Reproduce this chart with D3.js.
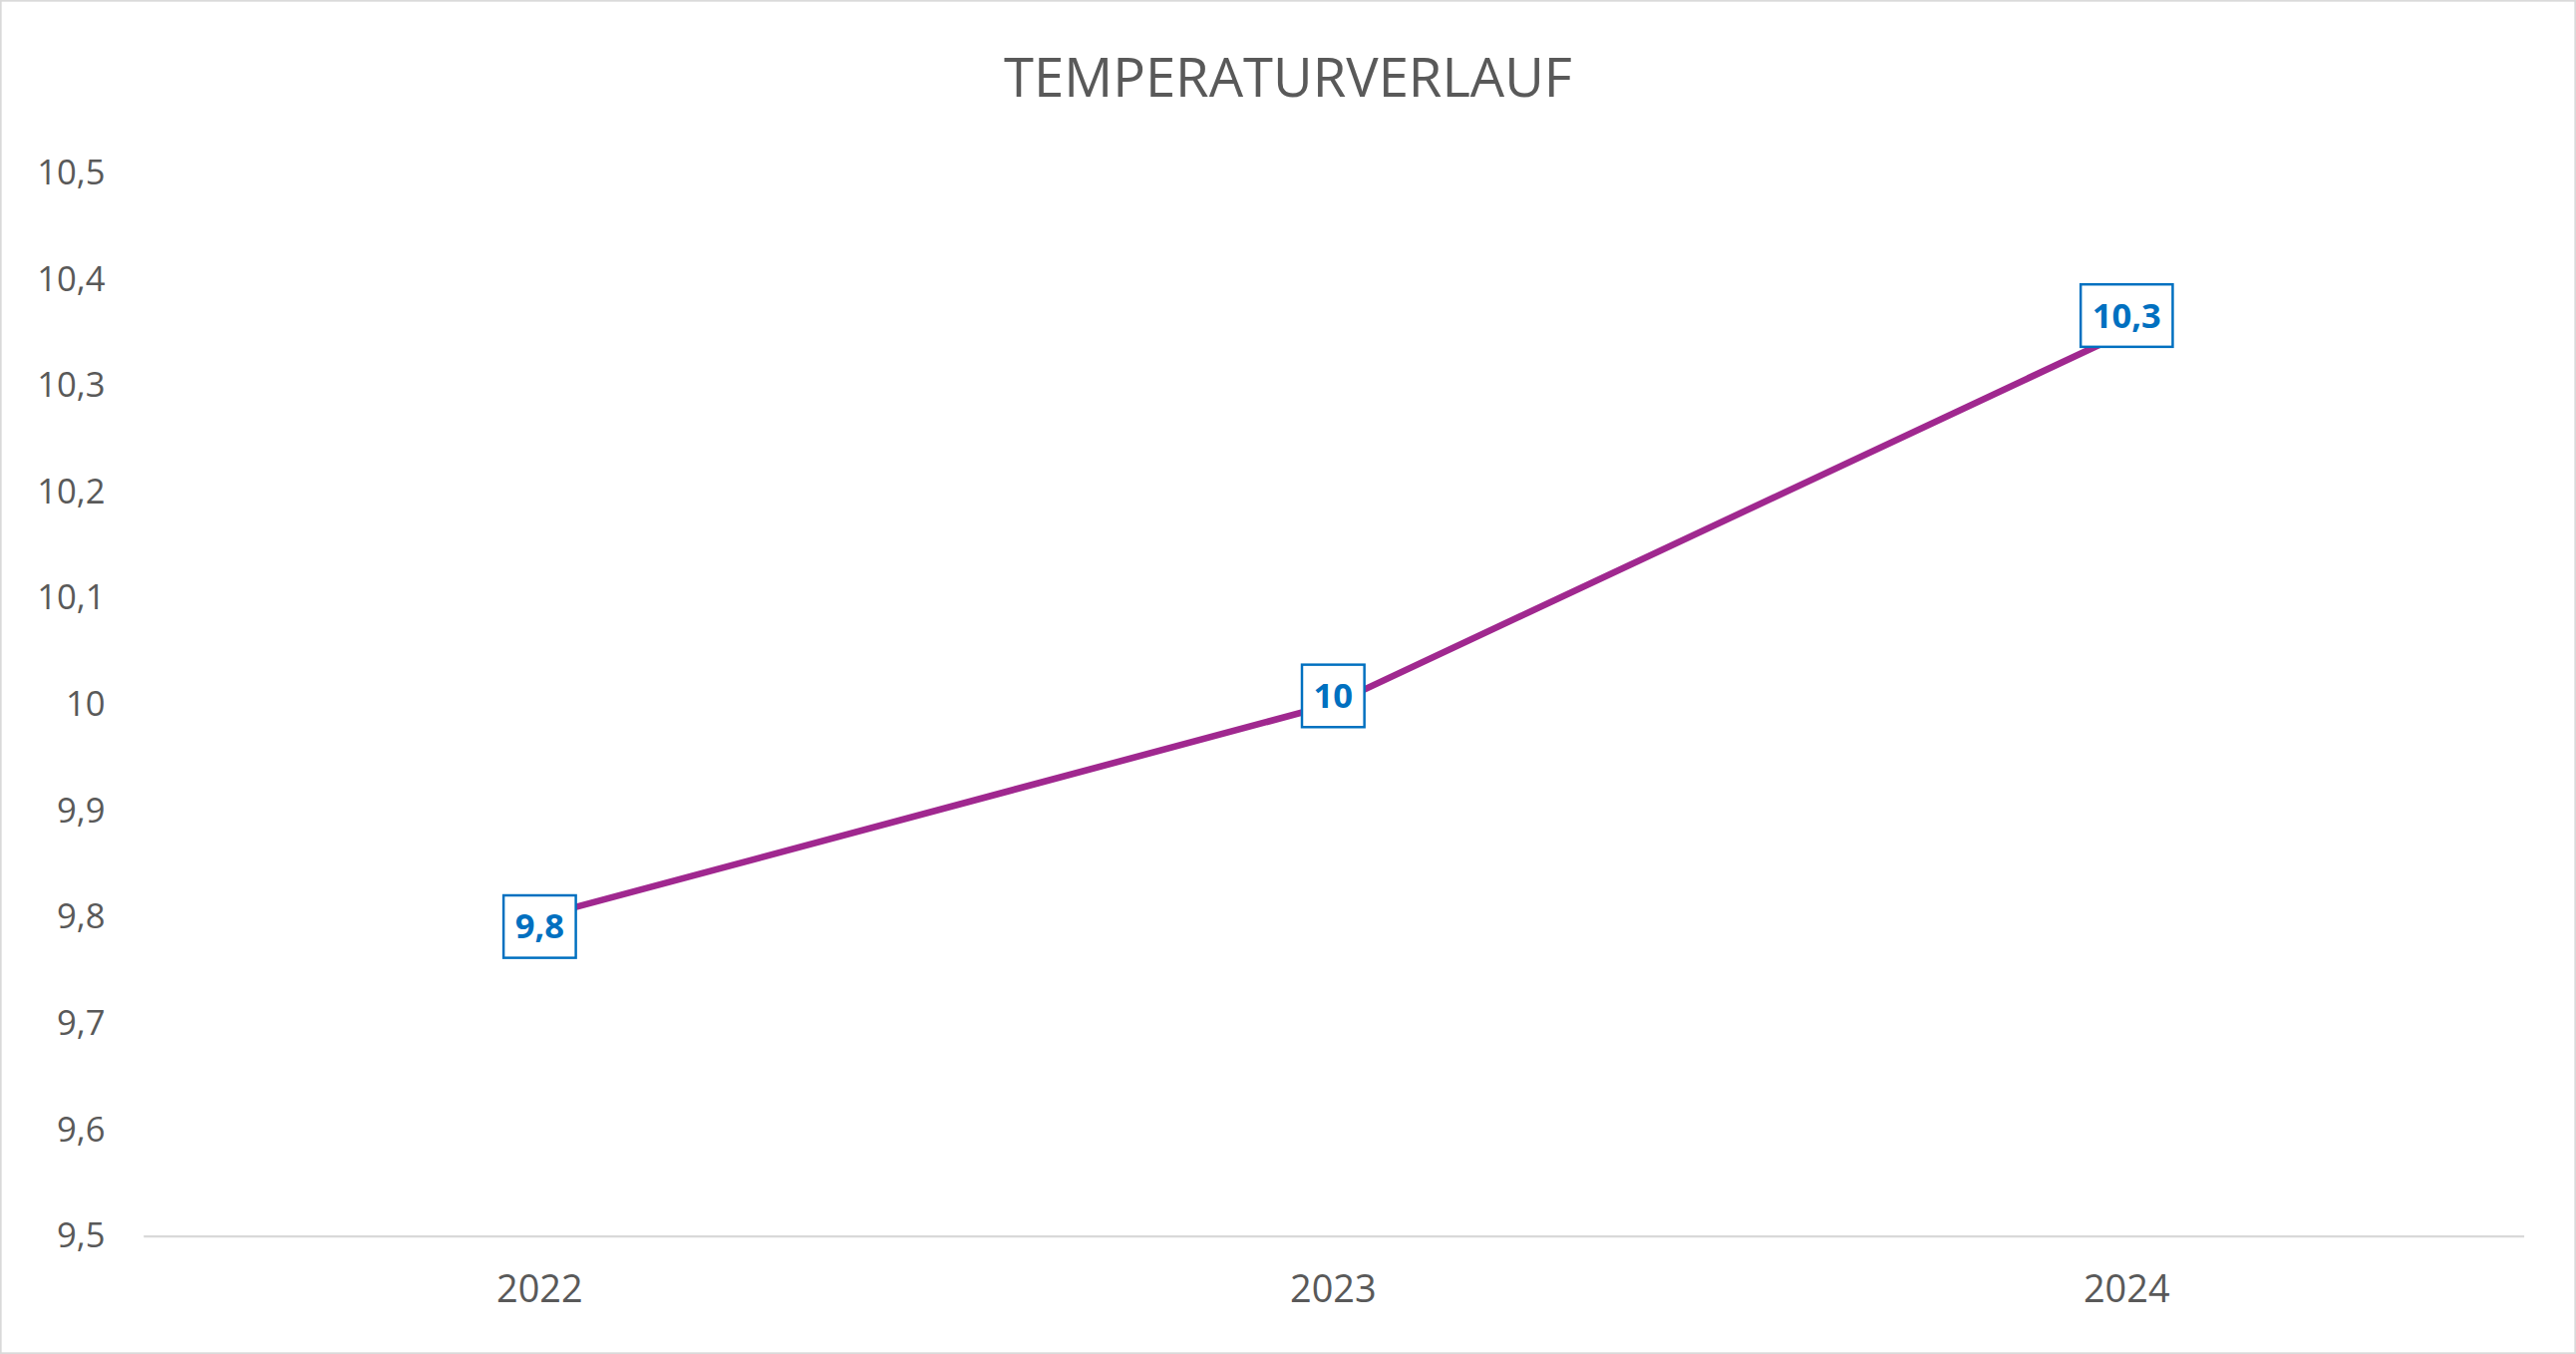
<!DOCTYPE html>
<html><head><meta charset="utf-8">
<script src="https://cdn.jsdelivr.net/npm/d3@7"></script>
<style>html,body{margin:0;padding:0;background:#fff;overflow:hidden}</style>
</head><body>
<svg id="c" width="2584" height="1358" viewBox="0 0 1568 824"></svg>
<script>
const title = "TEMPERATURVERLAUF";
const categories = ["2022","2023","2024"];
const values = [9.8, 10.0, 10.35];
const yTicks = [9.5,9.6,9.7,9.8,9.9,10,10.1,10.2,10.3,10.4,10.5];

const svg = d3.select("#c");
const font = "'Open Sans', 'Liberation Sans', sans-serif";
svg.append("rect").attr("x",0.5).attr("y",0.5).attr("width",1567).attr("height",823)
  .attr("fill","#fff").attr("stroke","#d9d9d9");
const x = d3.scaleBand().domain(categories).range([87,1536]);
const y = d3.scaleLinear().domain([9.5,10.5]).range([752,105]);
const fmt = v => d3.format(".1f")(v).replace(".",",").replace(",0","");
const tfmt = v => (Math.round(v*10)/10).toString().replace(".",",");

svg.append("text").attr("x",784).attr("y",59).attr("text-anchor","middle")
  .attr("font-family",font).attr("font-size",33).attr("fill","#595959").text(title);

const ya = svg.append("g").attr("transform","translate(64,0)")
  .call(d3.axisLeft(y).tickValues(yTicks).tickSize(0).tickPadding(0).tickFormat(tfmt));
ya.select(".domain").remove();
ya.selectAll("text").attr("font-family",font).attr("font-size",21).attr("fill","#595959");

const xa = svg.append("g").attr("transform","translate(0,752)")
  .call(d3.axisBottom(x).tickSize(0).tickPadding(24));
xa.select(".domain").attr("stroke","#d9d9d9").attr("stroke-width",1.5);
xa.selectAll("text").attr("font-family",font).attr("font-size",23).attr("fill","#595959");

const cx = d => x(d)+x.bandwidth()/2;
svg.append("path").datum(values)
  .attr("d", d3.line().x((d,i)=>cx(categories[i])).y(d=>y(d)))
  .attr("fill","none").attr("stroke","#a0288f").attr("stroke-width",4);

values.forEach((v,i)=>{
  const g = svg.append("g").attr("transform",`translate(${cx(categories[i])},${y(v)+ (i===2?-10:(i===0?6:-5))})`);
  const t = g.append("text").attr("text-anchor","middle").attr("dy","0.35em")
    .attr("font-family",font).attr("font-size",21).attr("font-weight","bold").attr("fill","#0070c0").text(fmt(v));
  const w = t.node().getComputedTextLength()+14;
  g.insert("rect","text").attr("x",-w/2).attr("y",-19).attr("width",w).attr("height",38)
    .attr("fill","#fff").attr("stroke","#0070c0").attr("stroke-width",1.5);
});
</script>
</body></html>
